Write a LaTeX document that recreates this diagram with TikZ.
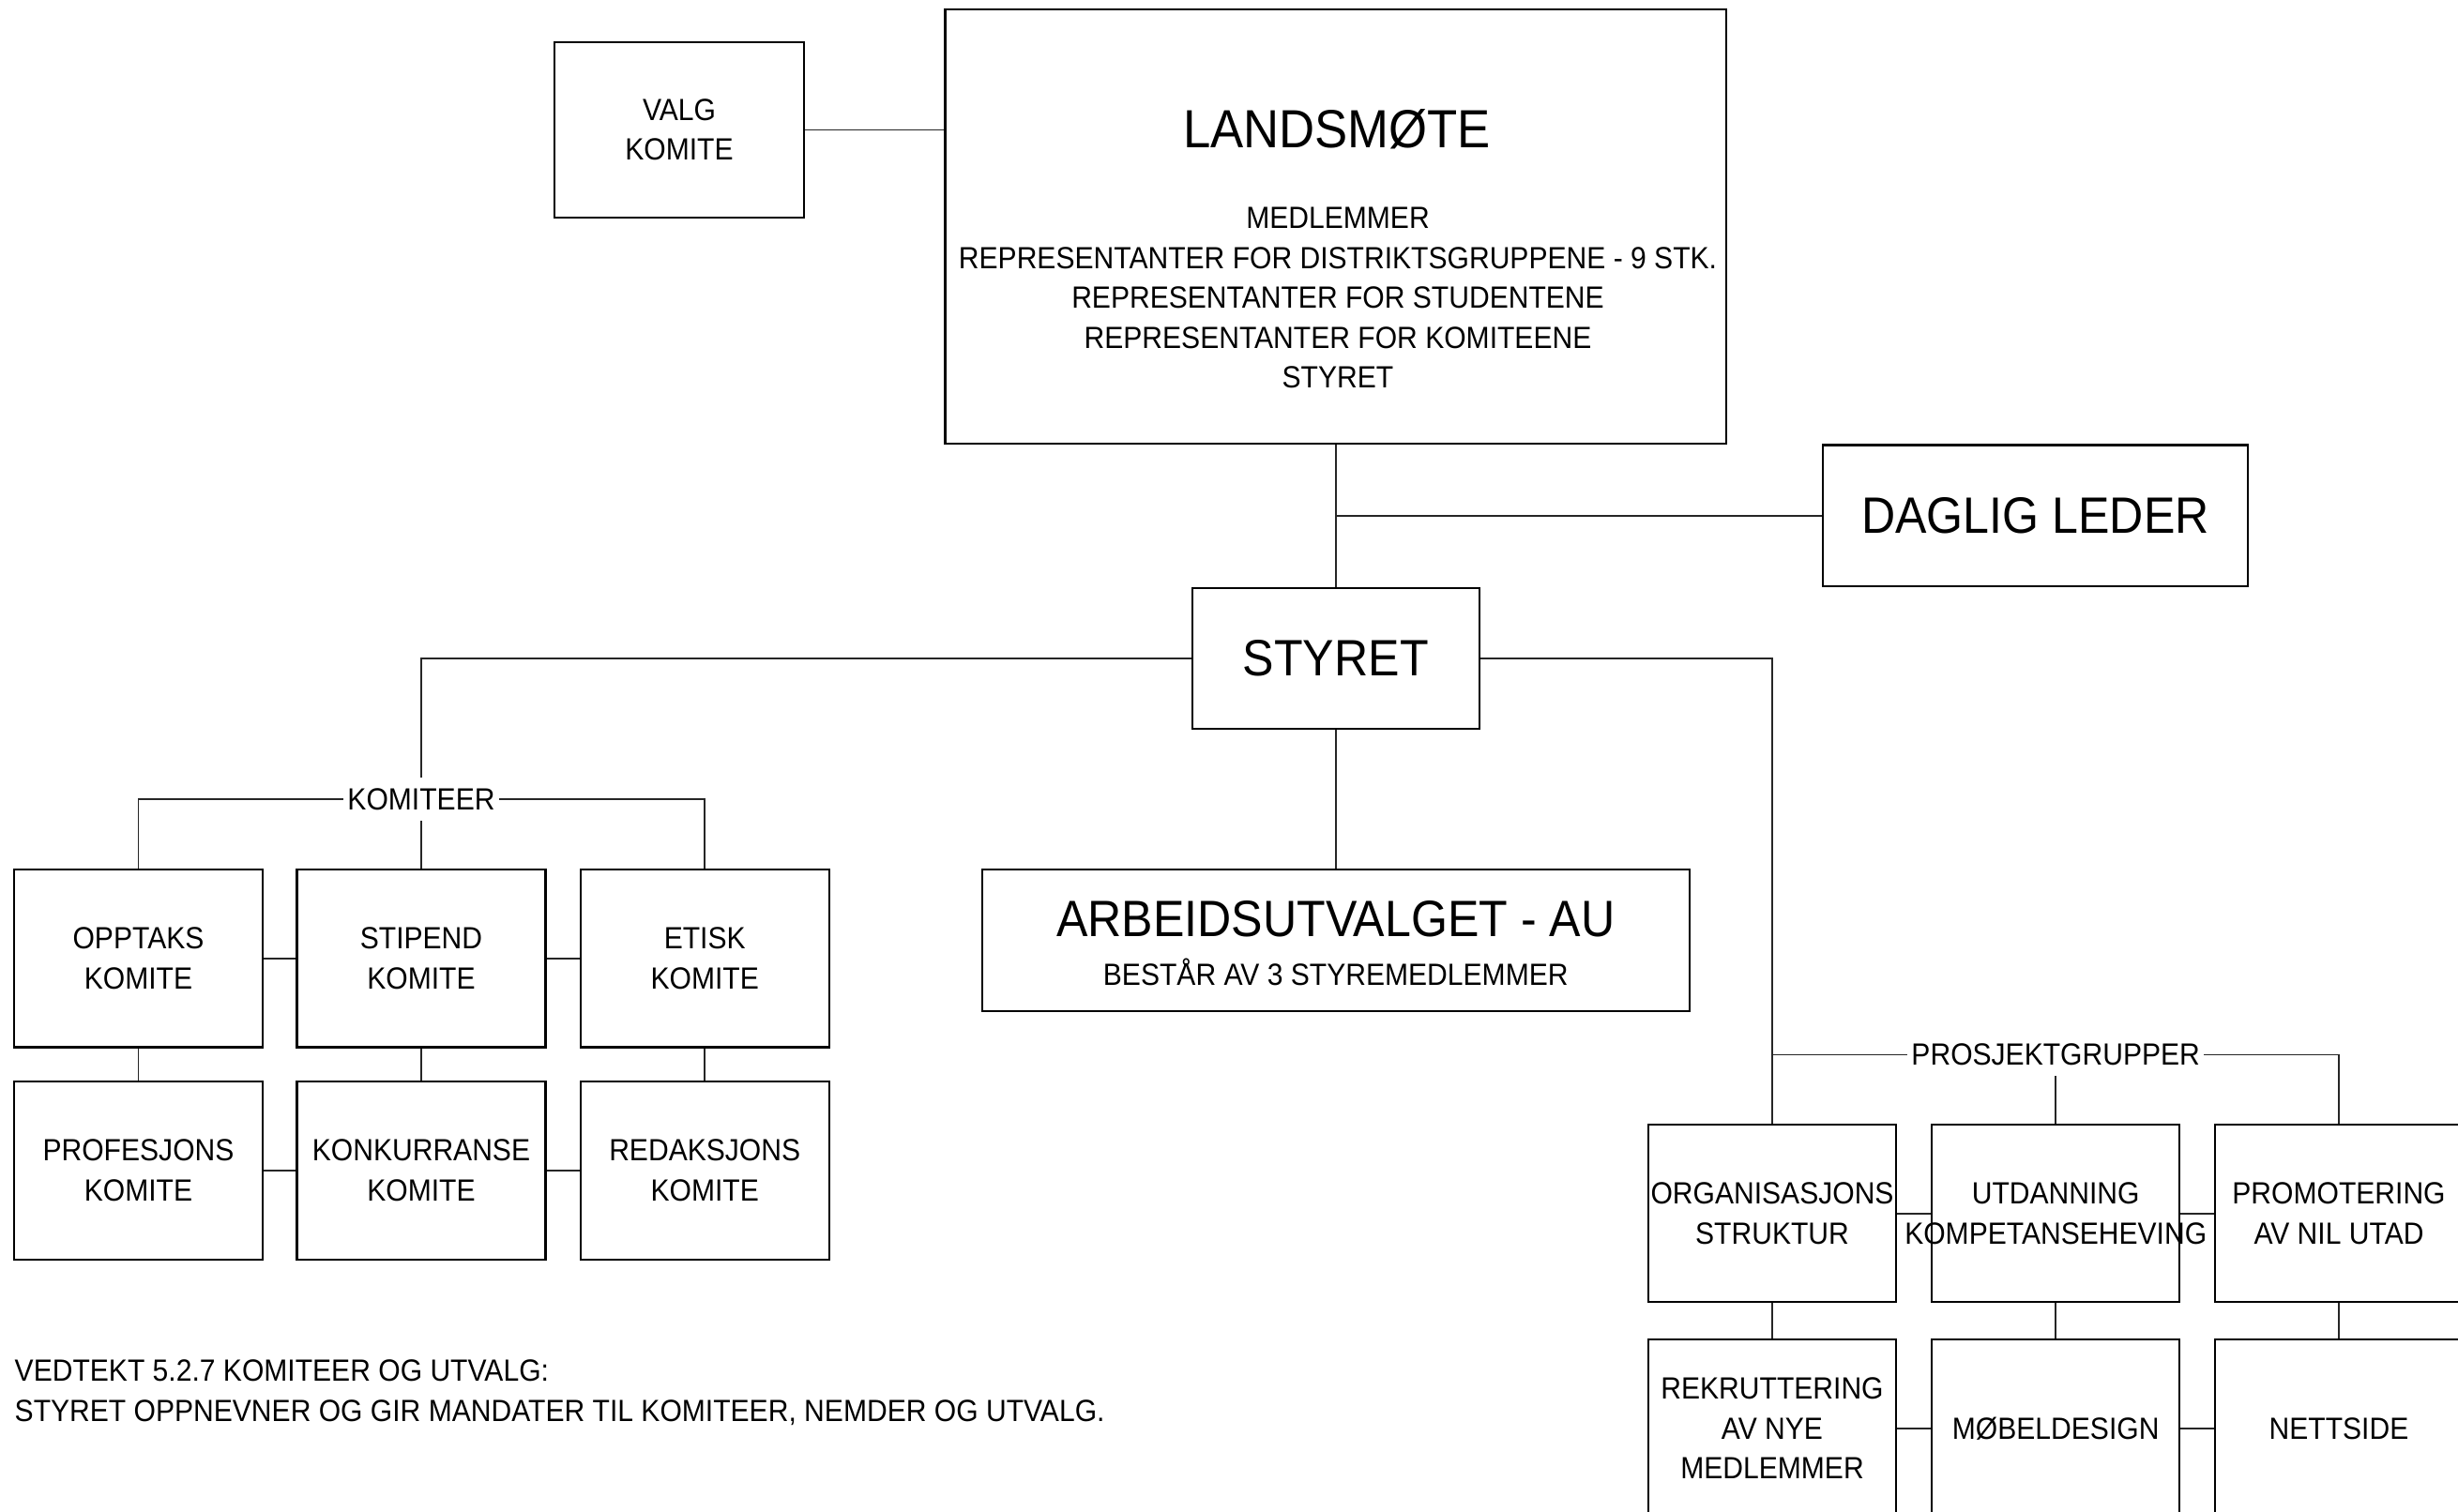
\documentclass[tikz,border=0pt]{standalone}
\usepackage{fontspec}
\setmainfont{Liberation Sans}[FakeStretch=0.92]
\newcommand\fsmall{\fontsize{9.3}{12.1}\selectfont}
\newcommand\flarge{\fontsize{15.5}{18}\selectfont}
\newcommand\fhuge{\fontsize{16.3}{19}\selectfont}
\begin{document}
\begin{tikzpicture}[
  box/.style={draw=black, line width=0.6pt, inner sep=0pt, align=center, font=\fsmall},
  kbox/.style={box, minimum width=2.65cm, minimum height=1.895cm},
  pbox/.style={box, minimum width=2.64cm, minimum height=1.89cm},
  conn/.style={draw=black!85, line width=0.5pt},
  lbl/.style={fill=white, inner xsep=1pt, inner ysep=3pt, font=\fsmall},
  txt/.style={inner sep=0pt, font=\fsmall, align=center}
]
\useasboundingbox (0,0) rectangle (26.2,-16.12);
\clip (0,0) rectangle (26.2,-16.12);

% top level
\node[box, minimum width=2.66cm, minimum height=1.87cm] (valg) at (7.24,-1.385) {VALG\\KOMITE};
\node[box, minimum width=8.325cm, minimum height=4.63cm] (lands) at (14.2375,-2.415) {};
\node[txt, font=\fhuge, anchor=base] (landsT) at (14.25,-1.575) {LANDSMØTE};
\node[txt] (landsL) at (14.26,-3.178) {MEDLEMMER\\REPRESENTANTER FOR DISTRIKTSGRUPPENE - 9 STK.\\REPRESENTANTER FOR STUDENTENE\\REPRESENTANTER FOR KOMITEENE\\STYRET};
\node[box, font=\flarge, minimum width=4.53cm, minimum height=1.505cm] (daglig) at (21.695,-5.4975) {DAGLIG LEDER};
\node[box, font=\flarge, minimum width=3.06cm, minimum height=1.504cm] (styret) at (14.2375,-7.018) {STYRET};
\node[box, minimum width=7.536cm, minimum height=1.504cm] (au) at (14.2375,-10.026) {};
\node[txt, font=\flarge] (auT) at (14.2375,-9.794) {ARBEIDSUTVALGET - AU};
\node[txt] (auS) at (14.2375,-10.363) {BESTÅR AV 3 STYREMEDLEMMER};

% komiteer
\node[kbox] (opptaks) at (1.475,-10.218) {OPPTAKS\\KOMITE};
\node[kbox] (stipend) at (4.49,-10.218) {STIPEND\\KOMITE};
\node[kbox] (etisk) at (7.512,-10.218) {ETISK\\KOMITE};
\node[kbox] (profesjons) at (1.475,-12.479) {PROFESJONS\\KOMITE};
\node[kbox] (konkurranse) at (4.49,-12.479) {KONKURRANSE\\KOMITE};
\node[kbox] (redaksjons) at (7.512,-12.479) {REDAKSJONS\\KOMITE};
\node[lbl] (komlbl) at (4.49,-8.523) {KOMITEER};

% prosjektgrupper
\node[pbox] (org) at (18.89,-12.937) {\makebox[0pt]{ORGANISASJONS}\\STRUKTUR};
\node[pbox] (utd) at (21.912,-12.937) {UTDANNING\\\makebox[0pt]{KOMPETANSEHEVING}};
\node[pbox] (prom) at (24.93,-12.937) {PROMOTERING\\AV NIL UTAD};
\node[pbox] (rekr) at (18.89,-15.229) {REKRUTTERING\\AV NYE\\MEDLEMMER};
\node[pbox] (mob) at (21.912,-15.229) {MØBELDESIGN};
\node[pbox] (nett) at (24.93,-15.229) {NETTSIDE};
\node[lbl] (prlbl) at (21.912,-11.245) {PROSJEKTGRUPPER};

% note
\node[txt, align=left, anchor=west] (note) at (0.15,-14.845) {VEDTEKT 5.2.7 KOMITEER OG UTVALG:\\STYRET OPPNEVNER OG GIR MANDATER TIL KOMITEER, NEMDER OG UTVALG.};

% connectors
\draw[conn] (valg.east) -- (valg.east -| lands.west);
\draw[conn] (lands.south) -- (styret.north);
\coordinate (jd) at (lands.south |- daglig.west);
\draw[conn] (jd) -- (daglig.west);
\draw[conn] (styret.south) -- (au.north);

\draw[conn] (styret.west) -| (komlbl.north);
\draw[conn] (komlbl.south) -- (stipend.north);
\draw[conn] (opptaks.north) |- (komlbl.west);
\draw[conn] (etisk.north) |- (komlbl.east);
\draw[conn] (opptaks.east) -- (stipend.west);
\draw[conn] (stipend.east) -- (etisk.west);
\draw[conn] (profesjons.east) -- (konkurranse.west);
\draw[conn] (konkurranse.east) -- (redaksjons.west);
\draw[conn] (opptaks.south) -- (profesjons.north);
\draw[conn] (stipend.south) -- (konkurranse.north);
\draw[conn] (etisk.south) -- (redaksjons.north);

\draw[conn] (styret.east) -| (org.north);
\coordinate (jp) at (org.north |- prlbl.west);
\draw[conn] (jp) -- (prlbl.west);
\draw[conn] (prlbl.east) -| (prom.north);
\draw[conn] (prlbl.south) -- (utd.north);
\draw[conn] (org.east) -- (utd.west);
\draw[conn] (utd.east) -- (prom.west);
\draw[conn] (rekr.east) -- (mob.west);
\draw[conn] (mob.east) -- (nett.west);
\draw[conn] (org.south) -- (rekr.north);
\draw[conn] (utd.south) -- (mob.north);
\draw[conn] (prom.south) -- (nett.north);
\end{tikzpicture}
\end{document}
